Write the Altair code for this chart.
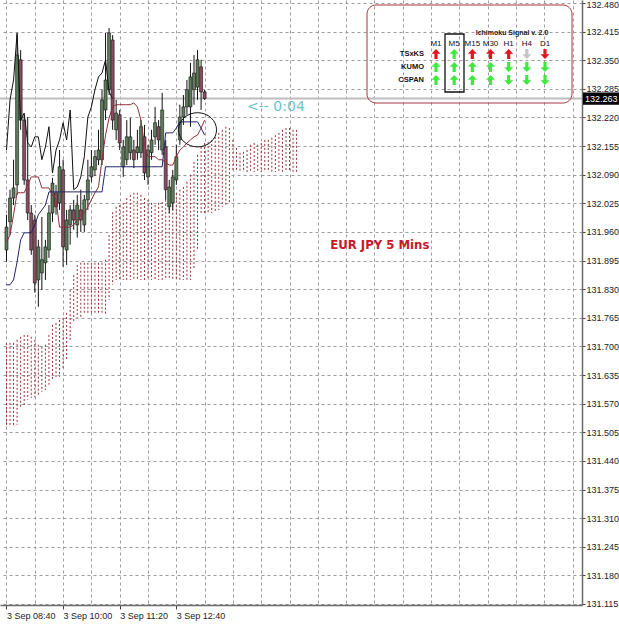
import math
import altair as alt
import pandas as pd

# ---------------- data ----------------
time_labels = ["3 Sep 08:40", "3 Sep 10:00", "3 Sep 11:20", "3 Sep 12:40"]
time_label_bars = [0, 16, 32, 48]
grid_bars = [0, 8, 16, 24, 32, 40, 48, 56, 64, 72, 80, 88, 96, 104, 112, 120, 128, 136, 144, 152, 160]

price_ticks = [131.115, 131.180, 131.245, 131.310, 131.375, 131.440, 131.505, 131.570,
               131.635, 131.700, 131.765, 131.830, 131.895, 131.960, 132.025, 132.090,
               132.155, 132.220, 132.285, 132.350, 132.415, 132.480]

opens = [131.919, 131.983, 132.037, 132.067, 132.351, 132.214, 132.078, 132.003, 131.987, 131.851,
         131.867, 131.890, 131.919, 132.003, 132.049, 132.026, 132.101, 131.919, 131.976, 132.010,
         131.976, 132.010, 131.976, 132.033, 132.085, 132.101, 132.124, 132.124, 132.237, 132.283,
         132.396, 132.192, 132.226, 132.108, 132.124, 132.140, 132.146, 132.140, 132.140, 132.176,
         132.085, 132.140, 132.176, 132.199, 132.146, 132.153, 132.017, 132.026, 132.078, 132.169,
         132.221, 132.244, 132.244, 132.283, 132.289, 132.335, 132.278]
closes = [131.971, 132.037, 132.060, 132.362, 132.214, 132.078, 132.003, 131.919, 131.844, 131.926,
          131.897, 131.926, 132.003, 132.071, 132.017, 132.108, 131.926, 131.987, 132.010, 131.987,
          132.021, 131.987, 132.033, 132.078, 132.108, 132.131, 132.146, 132.260, 132.305, 132.412,
          132.214, 132.230, 132.162, 132.153, 132.176, 132.176, 132.124, 132.153, 132.199, 132.094,
          132.146, 132.169, 132.208, 132.169, 132.237, 132.056, 132.062, 132.085, 132.131, 132.221,
          132.244, 132.283, 132.312, 132.321, 132.351, 132.278, 132.263]
highs = [131.999, 132.056, 132.124, 132.407, 132.373, 132.226, 132.221, 132.021, 131.999, 131.942,
         131.994, 131.942, 132.021, 132.083, 132.067, 132.146, 132.124, 132.010, 132.021, 132.033,
         132.044, 132.056, 132.044, 132.124, 132.146, 132.146, 132.192, 132.283, 132.412, 132.423,
         132.407, 132.260, 132.237, 132.169, 132.214, 132.219, 132.169, 132.192, 132.214, 132.203,
         132.158, 132.192, 132.244, 132.214, 132.276, 132.169, 132.078, 132.101, 132.158, 132.249,
         132.271, 132.305, 132.344, 132.362, 132.373, 132.351, 132.283]
lows = [131.892, 131.953, 132.021, 132.044, 132.192, 132.067, 131.987, 131.908, 131.822, 131.790,
        131.828, 131.851, 131.901, 131.983, 131.999, 132.010, 131.881, 131.885, 131.931, 131.965,
        131.947, 131.960, 131.960, 132.010, 132.074, 132.087, 132.112, 132.112, 132.214, 132.271,
        132.192, 132.169, 132.146, 132.085, 132.112, 132.124, 132.105, 132.124, 132.128, 132.078,
        132.067, 132.124, 132.158, 132.146, 132.135, 132.033, 132.003, 132.010, 132.067, 132.158,
        132.203, 132.226, 132.199, 132.249, 132.260, 132.237, 132.260]

tenkan = [131.937, 131.953, 131.999, 132.049, 132.049, 132.049, 132.067, 132.085, 132.085, 132.085,
          132.060, 132.060, 132.060, 132.044, 132.033, 131.971, 131.971, 131.971, 131.971, 131.976,
          131.987, 131.999, 132.003, 132.017, 132.033, 132.049, 132.062, 132.124, 132.180, 132.219,
          132.244, 132.249, 132.249, 132.249, 132.249, 132.249, 132.253, 132.244, 132.214, 132.158,
          132.131, 132.131, 132.131, 132.124, 132.124, 132.117, 132.112, 132.112, 132.131, 132.146,
          132.153, 132.162, 132.169, 132.176, 132.180, 132.196, 132.214]
kijun = [131.840, 131.840, 131.851, 131.892, 131.942, 131.958, 131.958, 131.958, 131.976, 131.999,
         132.010, 132.021, 132.051, 132.051, 132.051, 132.051, 132.051, 132.051, 132.051, 132.051,
         132.051, 132.051, 132.051, 132.051, 132.051, 132.051, 132.051, 132.051, 132.108, 132.108,
         132.108, 132.108, 132.108, 132.108, 132.108, 132.108, 132.108, 132.108, 132.108, 132.108,
         132.108, 132.108, 132.108, 132.108, 132.108, 132.185, 132.185, 132.185, 132.196, 132.210,
         132.210, 132.210, 132.210, 132.210, 132.210, 132.196, 132.180]
chikou_shift = 26

span_top = [131.708, 131.708, 131.708, 131.715, 131.722, 131.726, 131.726, 131.722, 131.715, 131.704,
            131.699, 131.704, 131.726, 131.749, 131.753, 131.760, 131.765, 131.776, 131.828, 131.862,
            131.885, 131.890, 131.890, 131.890, 131.890, 131.890, 131.890, 131.890, 131.897, 131.953,
            132.005, 132.017, 132.021, 132.026, 132.037, 132.044, 132.049, 132.049, 132.044, 132.037,
            132.033, 132.026, 132.021, 132.026, 132.028, 132.033, 132.033, 132.040, 132.049, 132.056,
            132.062, 132.074, 132.090, 132.119, 132.135, 132.153, 132.162, 132.164, 132.169, 132.176,
            132.185, 132.192, 132.199, 132.196, 132.169, 132.151, 132.140, 132.142, 132.146, 132.158,
            132.162, 132.158, 132.162, 132.169, 132.169, 132.174, 132.180, 132.185, 132.192, 132.196,
            132.196, 132.192, 132.192]
span_bot = [131.517, 131.517, 131.517, 131.522, 131.563, 131.567, 131.579, 131.583, 131.585, 131.590,
            131.597, 131.601, 131.613, 131.624, 131.629, 131.631, 131.647, 131.669, 131.715, 131.756,
            131.765, 131.767, 131.772, 131.772, 131.772, 131.772, 131.772, 131.772, 131.772, 131.806,
            131.840, 131.851, 131.851, 131.851, 131.851, 131.851, 131.851, 131.851, 131.851, 131.851,
            131.851, 131.851, 131.851, 131.851, 131.851, 131.851, 131.851, 131.851, 131.851, 131.851,
            131.851, 131.851, 131.851, 131.874, 131.919, 131.999, 132.003, 132.003, 132.003, 132.005,
            132.010, 132.017, 132.021, 132.026, 132.096, 132.096, 132.096, 132.096, 132.096, 132.096,
            132.096, 132.096, 132.096, 132.096, 132.096, 132.096, 132.096, 132.096, 132.096, 132.096,
            132.096, 132.096, 132.096]

# annotations (bar index, price)
timer_text = "<-- 0:04"
timer_anchor = (68.0, 132.244)
title_text = "EUR JPY 5 Mins"
title_anchor = (91.5, 131.931)
circle_anchor = (54.0, 132.192)

# Ichimoku signal panel
panel_title = "Ichimoku Signal v. 2.0"
timeframes = ["M1", "M5", "M15", "M30", "H1", "H4", "D1"]
signal_rows = ["TSxKS", "KUMO", "CSPAN"]
sig_tsxks = ["up_red", "up_green", "up_red", "up_red", "up_red", "down_gray", "down_red"]
sig_kumo = ["up_green", "up_green", "up_green", "up_green", "down_green", "down_green", "down_green"]
sig_cspan = ["up_green", "up_green", "up_green", "up_green", "down_green", "down_green", "down_green"]

# ---------------- frames ----------------
n = len(opens)
candles = pd.DataFrame({"bar": list(range(n)), "open": opens, "close": closes,
                        "high": highs, "low": lows})
candles["dir"] = ["bull" if c >= o else "bear" for o, c in zip(opens, closes)]

lines = pd.DataFrame({"bar": list(range(n)), "tenkan": tenkan, "kijun": kijun})
chik = pd.DataFrame({"bar": [i - chikou_shift for i in range(chikou_shift, n)],
                     "close": closes[chikou_shift:]})
cloud = pd.DataFrame({"bar": list(range(len(span_top))), "top": span_top, "bot": span_bot})
last = pd.DataFrame({"price": [closes[-1]], "label": [f"{closes[-1]:.3f}"]})

sig_rows = []
for r, vals in zip(signal_rows, [sig_tsxks, sig_kumo, sig_cspan]):
    for tf, v in zip(timeframes, vals):
        sig_rows.append({"tf": tf, "row": r, "state": v,
                         "dir": "up" if v.startswith("up") else "down"})
sig = pd.DataFrame(sig_rows)

# ---------------- scales & axes ----------------
xs = alt.Scale(domain=[-0.42, 161.25], nice=False, zero=False)
ys = alt.Scale(domain=[131.1127, 132.4868], nice=False, zero=False)

lab_expr = " : ".join(f"datum.value == {b} ? '{t}'" for b, t in zip(time_label_bars, time_labels)) + " : ''"
tick_test = " || ".join(f"datum.value == {b}" for b in time_label_bars)

x_axis = alt.Axis(values=grid_bars, labelExpr=lab_expr, title=None, grid=True,
                  gridDash=[3, 3], gridColor="#9c9c9c", gridWidth=1,
                  labelAlign="left", labelFont="Liberation Sans", labelFontSize=9,
                  labelColor="#222222", labelPadding=2, labelOverlap=False, labelFlush=False,
                  tickSize=4, tickColor={"condition": {"test": tick_test, "value": "#444444"},
                                         "value": "rgba(0,0,0,0)"},
                  domainColor="#6a6a6a", domainWidth=1.5)
y_axis = alt.Axis(orient="right", values=price_ticks, format=".3f", title=None, grid=True,
                  gridDash=[3, 3], gridColor="#9c9c9c", gridWidth=1,
                  labelFont="Liberation Sans", labelFontSize=9, labelColor="#222222",
                  labelPadding=1, labelOverlap=False, labelBound=False, tickSize=3, tickColor="#444444",
                  labelOffset={"condition": {"test": "datum.value > 132.47", "value": 2}, "value": 0},
                  domainColor="#6a6a6a", domainWidth=1.5)


def X(f):
    return alt.X(f, type="quantitative", scale=xs, axis=x_axis)


def Y(f):
    return alt.Y(f, type="quantitative", scale=ys, axis=y_axis)


cloud_l = alt.Chart(cloud).mark_rule(color="#9a2f35", strokeWidth=1, strokeDash=[2, 2]).encode(
    x=X("bar"), y=Y("top"), y2="bot")

price_line = alt.Chart(last).mark_rule(color="#bdbdbd", strokeWidth=2).encode(y=Y("price"))

wicks = alt.Chart(candles).mark_rule(color="#111111", strokeWidth=1).encode(
    x=X("bar"), y=Y("low"), y2="high")
bodies = alt.Chart(candles).mark_bar(size=3, stroke="#111111", strokeWidth=0.6).encode(
    x=X("bar"), y=Y("open"), y2="close",
    color=alt.Color("dir:N", scale=alt.Scale(domain=["bull", "bear"], range=["#5d7d5b", "#8e4c61"]),
                    legend=None))

tenkan_l = alt.Chart(lines).mark_line(color="#8e2f3c", strokeWidth=1).encode(
    x=X("bar"), y=Y("tenkan"))
kijun_l = alt.Chart(lines).mark_line(color="#22226a", strokeWidth=1).encode(
    x=X("bar"), y=Y("kijun"))
chikou_l = alt.Chart(chik).mark_line(color="#111111", strokeWidth=1).encode(
    x=X("bar"), y=Y("close"))

timer = alt.Chart(pd.DataFrame({"bar": [timer_anchor[0]], "p": [timer_anchor[1]], "t": [timer_text]})).mark_text(
    align="left", baseline="middle", font="DejaVu Sans", fontSize=14, color="#6cc3c6").encode(
    x=X("bar"), y=Y("p"), text="t:N")
sym_title = alt.Chart(pd.DataFrame({"bar": [title_anchor[0]], "p": [title_anchor[1]], "t": [title_text]})).mark_text(
    align="left", baseline="middle", font="Liberation Sans Narrow, DejaVu Sans Condensed",
    fontSize=13, fontWeight="bold", color="#c8182a").encode(
    x=X("bar"), y=Y("p"), text="t:N")

ell_pts = []
for k in range(33):
    a = 2 * math.pi * k / 32
    ell_pts.append(f"{math.cos(a):.3f} {0.9 * math.sin(a):.3f}")
ellipse_path = "M " + " L ".join(ell_pts) + " Z"
circle = alt.Chart(pd.DataFrame({"bar": [circle_anchor[0]], "p": [circle_anchor[1]]})).mark_point(
    shape=ellipse_path, size=38 * 38, filled=False, stroke="#111111", strokeWidth=1, opacity=1).encode(
    x=X("bar"), y=Y("p"))

tag_path = "M -1 -0.34 L 1 -0.34 L 1 0.34 L -1 0.34 Z"
tag = alt.Chart(last).mark_point(shape=tag_path, size=36 * 36, filled=True, color="#000000",
                                 opacity=1).encode(x=alt.value(601), y=Y("price"))
tag_txt = alt.Chart(last).mark_text(align="left", baseline="middle", font="Liberation Sans",
                                    fontSize=9, color="#ffffff").encode(
    x=alt.value(585), y=Y("price"), text="label:N")

main = alt.layer(cloud_l, price_line, wicks, bodies, tenkan_l, kijun_l, chikou_l,
                 timer, sym_title, circle, tag, tag_txt)

# ---- panel ----
one = pd.DataFrame({"a": [0]})
TF = alt.X("tf:N", scale=alt.Scale(type="point", domain=timeframes, range=[436, 545], padding=0), axis=None)
RW = alt.Y("row:N", scale=alt.Scale(type="point", domain=signal_rows, range=[54, 80], padding=0), axis=None)

up_path = "M 0 -1 L 0.9 -0.05 L 0.32 -0.05 L 0.32 1 L -0.32 1 L -0.32 -0.05 L -0.9 -0.05 Z"
down_path = "M 0 1 L 0.9 0.05 L 0.32 0.05 L 0.32 -1 L -0.32 -1 L -0.32 0.05 L -0.9 0.05 Z"

panel_box = alt.Chart(one).mark_rect(fillOpacity=0, stroke="#a8373c", strokeWidth=1, cornerRadius=9).encode(
    x=alt.value(367), x2=alt.value(572), y=alt.value(5), y2=alt.value(103))
m5_box = alt.Chart(one).mark_rect(fillOpacity=0, stroke="#111111", strokeWidth=1.3).encode(
    x=alt.value(445), x2=alt.value(464), y=alt.value(34), y2=alt.value(92))
ptitle = alt.Chart(pd.DataFrame({"t": [panel_title]})).mark_text(
    font="Liberation Sans", fontSize=7, fontWeight="bold", color="#222222", baseline="middle").encode(
    x=alt.value(512), y=alt.value(33), text="t:N")
heads = alt.Chart(pd.DataFrame({"tf": timeframes})).mark_text(
    font="Liberation Sans", fontSize=8, color="#111111", baseline="middle").encode(
    x=TF, y=alt.value(44), text="tf:N")
rlabels = alt.Chart(pd.DataFrame({"row": signal_rows})).mark_text(
    font="Liberation Sans", fontSize=7.5, fontWeight="bold", color="#111111", align="right",
    baseline="middle").encode(x=alt.value(424), y=RW, text="row:N")
arrows = alt.Chart(sig).mark_point(filled=True, size=100, opacity=1, strokeWidth=0).encode(
    x=TF, y=RW,
    shape=alt.Shape("dir:N", scale=alt.Scale(domain=["up", "down"], range=[up_path, down_path]), legend=None),
    color=alt.Color("state:N", scale=alt.Scale(
        domain=["up_red", "up_green", "down_gray", "down_red", "down_green"],
        range=["#e3151f", "#3fe83f", "#c4c4c4", "#e3151f", "#3fe83f"]), legend=None))

panel = alt.layer(panel_box, m5_box, ptitle, heads, rlabels, arrows)

chart = alt.layer(main, panel).resolve_scale(x="independent", y="independent", color="independent",
                                             shape="independent").properties(
    width=582, height=605, autosize="none",
    padding={"left": 0, "top": 0, "right": 37, "bottom": 20},
    background="#ffffff",
).configure_view(stroke=None)

chart.save("out.html", embed_options={"renderer": "svg", "actions": False})
